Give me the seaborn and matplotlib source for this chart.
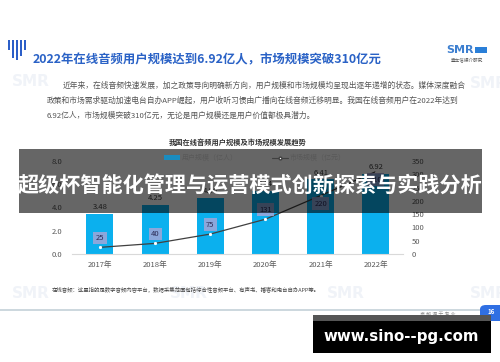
import numpy as np
import pandas as pd
import matplotlib
matplotlib.use("Agg")
import matplotlib.pyplot as plt
from matplotlib.patches import Rectangle, FancyBboxPatch
from matplotlib.lines import Line2D
import seaborn as sns

# ---- data ----
years = ["2017年", "2018年", "2019年", "2020年", "2021年", "2022年"]
users = [3.48, 4.25, 4.86, 5.44, 6.41, 6.92]          # 用户规模（亿人）
market = [25, 40, 75, 131, 220, 310]                   # 市场规模（亿元）
left_ticks = [0.0, 2.0, 4.0, 6.0, 8.0]
right_ticks = [0, 50, 100, 150, 200, 250, 300, 350]
legend_labels = ["用户规模（亿人）", "市场规模（亿元）"]
chart_title = "我国在线音频用户规模及市场规模发展趋势"
slide_title = "2022年在线音频用户规模达到6.92亿人，市场规模突破310亿元"
paragraph = [
    "近年来，在线音频快速发展，加之政策导向明确新方向，用户规模和市场规模均呈现出逐年递增的状态。媒体深度融合",
    "政策和市场需求驱动加速电台自办APP崛起，用户收听习惯由广播向在线音频迁移明显。我国在线音频用户在2022年达到",
    "6.92亿人，市场规模突破310亿元，无论是用户规模还是用户价值都极具潜力。",
]
footnote = "在线音频：这里指的是数字音频内容平台，数据采集范围包括综合性音频平台、有声书、播客和电台自办APP等。"
overlay_title = "超级杯智能化管理与运营模式创新探索与实践分析"
watermark_url = "www.sino--pg.com"
page_no = "16"
slogan = "卓 越 源 于 专 业"

sns.set_theme(style="white")
plt.rcParams["font.family"] = ["Noto Sans CJK SC", "DejaVu Sans"]

W, H = 500, 362
fig = plt.figure(figsize=(W / 100, H / 100), dpi=100)
fig.patch.set_facecolor("white")

def fx(x):
    return x / W

def fy(y):
    return 1 - y / H

BLUE = "#0bb0ee"
GRAY_T = "#595959"

# ---- main chart axes ----
ax = fig.add_axes([fx(72.4), fy(254), 331 / W, 93 / H])
df = pd.DataFrame({"year": years, "users": users, "market": market})
sns.barplot(data=df, x="year", y="users", ax=ax, color=BLUE, width=0.49,
            saturation=1, edgecolor="none")
ax.set_xlim(-0.5, len(years) - 0.5)
ax.set_ylim(0, 8)
ax.set_yticks(left_ticks)
ax.set_yticklabels([f"{t:.1f}" for t in left_ticks])
ax.set_xlabel("")
ax.set_ylabel("")
for s in ["top", "left", "right"]:
    ax.spines[s].set_visible(False)
ax.spines["bottom"].set_color("#d9d9d9")
ax.spines["bottom"].set_linewidth(0.8)
ax.tick_params(axis="y", length=0, pad=7, labelsize=5.5, labelcolor=GRAY_T)
ax.tick_params(axis="x", length=0, pad=5, labelsize=5.5, labelcolor=GRAY_T)
ax.set_facecolor("none")

for i, v in enumerate(users):
    ax.annotate(f"{v:.2f}", (i, v), xytext=(0, 4.8), textcoords="offset points",
                ha="center", va="center", fontsize=5.5, color="#404040")

ax2 = ax.twinx()
sns.pointplot(data=df, x="year", y="market", ax=ax2, color="#404040",
              markers="o", markersize=1.6, linewidth=0.9, errorbar=None)
for ln in ax2.lines:
    ln.set_markerfacecolor("white")
    ln.set_markeredgecolor("white")
ax2.set_xlim(-0.5, len(years) - 0.5)
ax2.set_ylim(0, 350)
ax2.set_yticks(right_ticks)
ax2.set_yticklabels([str(t) for t in right_ticks])
ax2.set_ylabel("")
for s in ["top", "left", "right", "bottom"]:
    ax2.spines[s].set_visible(False)
ax2.tick_params(axis="y", length=0, pad=6, labelsize=5.5, labelcolor=GRAY_T)

for i, v in enumerate(market):
    off = 6.8 if i < 4 else -5.8
    ax2.annotate(str(v), (i, v), xytext=(0, off), textcoords="offset points",
                 ha="center", va="center", fontsize=5.5, color="#2b2b55",
                 bbox=dict(boxstyle="square,pad=0.3", fc="#a3a6d8", ec="none", alpha=0.85))

# legend
handles = [Rectangle((0, 0), 1, 1, fc="#1a8cc0", ec="none"),
           Line2D([0], [0], color="#404040", lw=0.8, marker="o", markersize=2,
                  markerfacecolor="white", markeredgecolor="#404040")]
fig.legend(handles, legend_labels, loc="center", bbox_to_anchor=(fx(255), fy(158)),
           ncol=2, frameon=False, fontsize=5, handlelength=2.2, handleheight=0.6,
           columnspacing=5, handletextpad=0.3, labelcolor=GRAY_T)

fig.text(fx(238), fy(142), chart_title, ha="center", va="center", fontsize=5.2,
         fontweight="bold", color="#333333")

# ---- slide decorations ----
bar_specs = [(7.5, 40, 50), (11.5, 40, 58), (15.5, 40, 60), (19.5, 40, 56), (23.5, 40, 50)]
for x0, y0, y1 in bar_specs:
    fig.patches.append(Rectangle((fx(x0), fy(y1)), 2.6 / W, (y1 - y0) / H,
                                 transform=fig.transFigure, fc="#2c5fc8", ec="none"))
fig.text(fx(33), fy(60), slide_title, ha="left", va="center", fontsize=8.9,
         fontweight="bold", color="#2a62c6")

fig.text(fx(446), fy(50), "SMR", ha="left", va="center", fontsize=8,
         fontweight="bold", color="#3d7fd0", family=["DejaVu Sans"])
fig.patches.append(Rectangle((fx(475), fy(53)), 12 / W, 6 / H,
                             transform=fig.transFigure, fc="#2a7fd8", ec="none"))
fig.text(fx(467), fy(61), "壹立信媒介研究", ha="center", va="center", fontsize=3.3,
         color="#555555")

para_pos = [(63, 86), (47, 101), (47, 116)]
for (px, py), line in zip(para_pos, paragraph):
    fig.text(fx(px), fy(py), line, ha="left", va="center", fontsize=5.6, color="#555555")

# faint watermarks
for wx, wy in [(12, 82), (470, 84), (12, 293), (170, 293), (327, 293), (470, 293)]:
    fig.text(fx(wx), fy(wy), "SMR", ha="left", va="center", fontsize=11,
             fontweight="bold", color="#f0f3f8", zorder=0.5, family=["DejaVu Sans"])

fig.text(fx(52), fy(290), footnote, ha="left", va="center", fontsize=3.9, color="#444444")

fig.patches.append(Rectangle((0, fy(311)), fx(482), 2.2 / H, transform=fig.transFigure,
                             fc="#cdd8de", ec="none"))
fig.patches.append(FancyBboxPatch((fx(480), fy(321)), 30 / W, 16 / H,
                                  boxstyle="round,pad=0,rounding_size=0.012",
                                  transform=fig.transFigure, fc="#2f6fe3", ec="none"))
fig.text(fx(491), fy(312), page_no, ha="center", va="center", fontsize=4.5,
         color="white", fontweight="bold")
fig.text(fx(438), fy(315), slogan, ha="center", va="center", fontsize=3.6, color="#888888")

fig.patches.append(Rectangle((fx(19), fy(213)), (482 - 19) / W, (213 - 149) / H,
                             transform=fig.transFigure, fc="black", alpha=0.6,
                             ec="none", zorder=5))
fig.text(fx(250), fy(186), overlay_title, ha="center", va="center", fontsize=15.2,
         fontweight="bold", color="white", zorder=6)

fig.patches.append(Rectangle((fx(313), fy(321)), (491 - 313) / W, 6 / H,
                             transform=fig.transFigure, fc="#555555", ec="none", zorder=5))
fig.patches.append(Rectangle((fx(313), fy(352.5)), (491 - 313) / W, (352.5 - 321) / H,
                             transform=fig.transFigure, fc="black", ec="none", zorder=5))
fig.text(fx(401), fy(337), watermark_url, ha="center", va="center", fontsize=10.8,
         fontweight="bold", color="white", zorder=6, family=["DejaVu Sans"])

fig.savefig("out.png", dpi=100)
